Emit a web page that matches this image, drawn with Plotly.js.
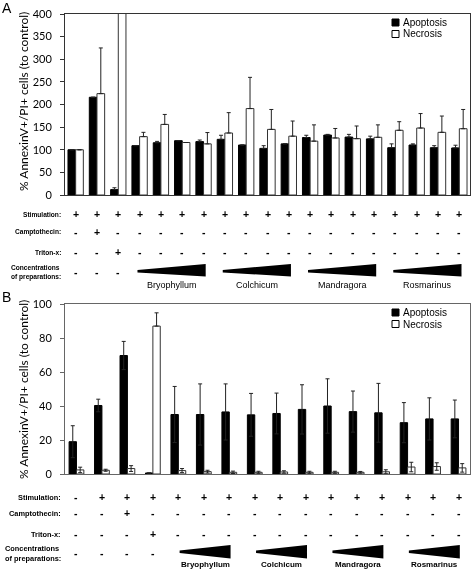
<!DOCTYPE html>
<html><head><meta charset="utf-8">
<script src="https://cdn.plot.ly/plotly-3.0.1.min.js"></script>
<style>html,body{margin:0;padding:0;background:#fff}#chart{width:473px;height:569px}#chart .main-svg{will-change:transform}</style>
</head><body><div id="chart"></div>
<script>
// ---------- data ----------
const seriesNames = ["Apoptosis", "Necrosis"];
const rowLabels = ["Stimulation:", "Camptothecin:", "Triton-x:", "Concentrations<br>of preparations:"];
const groupNames = ["Bryophyllum", "Colchicum", "Mandragora", "Rosmarinus"];
const yTitle = '% AnnexinV+/PI+ cells (to control)';

// Panel A (19 conditions)
const catsA = ["Control", "Camptothecin", "Triton-x",
  "Bryophyllum 1", "Bryophyllum 2", "Bryophyllum 3", "Bryophyllum 4",
  "Colchicum 1", "Colchicum 2", "Colchicum 3", "Colchicum 4",
  "Mandragora 1", "Mandragora 2", "Mandragora 3", "Mandragora 4",
  "Rosmarinus 1", "Rosmarinus 2", "Rosmarinus 3", "Rosmarinus 4"];
const apoA    = [100, 216, 12, 109, 115.5, 120, 118, 123, 110.5, 103, 113, 127, 132.5, 128, 124, 104.5, 110.5, 104.5, 104];
const apoErrA = [0, 0, 4, 0, 3, 0, 3.5, 9, 0, 6, 0, 5, 1.5, 6, 6, 8.5, 2.5, 4.5, 6];
const necA    = [100, 224, 450, 129, 156, 116, 113, 137, 191, 145, 130, 119, 126, 124.5, 127.5, 143, 148, 138.5, 146.5];
const necErrA = [0, 101, 0, 9.5, 22, 0, 25, 45, 69, 44, 33.5, 36, 21, 28, 27.5, 19, 32, 36, 42.5];
const stimA   = ["+","+","+","+","+","+","+","+","+","+","+","+","+","+","+","+","+","+","+"];
const campA   = ["-","+","-","-","-","-","-","-","-","-","-","-","-","-","-","-","-","-","-"];
const tritonA = ["-","-","+","-","-","-","-","-","-","-","-","-","-","-","-","-","-","-","-"];
const concA   = ["-","-","-"];
const groupStartA = [3, 7, 11, 15];
const groupSizeA = 4;

// Panel B (16 conditions)
const catsB = ["Unstimulated", "Stimulated", "Camptothecin", "Triton-x",
  "Bryophyllum 1", "Bryophyllum 2", "Bryophyllum 3",
  "Colchicum 1", "Colchicum 2", "Colchicum 3",
  "Mandragora 1", "Mandragora 2", "Mandragora 3",
  "Rosmarinus 1", "Rosmarinus 2", "Rosmarinus 3"];
const apoB       = [19, 40.3, 69.7, 0.6, 35, 35, 36.5, 34.8, 35.6, 38, 40, 36.7, 36, 30.2, 32.4, 32.4];
const apoErrB    = [9.4, 3.7, 8.3, 0, 16.5, 18, 16.5, 12.6, 12, 14.5, 16, 12.1, 17.3, 11.8, 12.4, 11.1];
const necB       = [2.4, 2.2, 3.2, 87, 2.0, 1.4, 1.0, 1.0, 1.2, 1.0, 1.0, 1.0, 1.3, 4.1, 4.4, 3.6];
const necErrB    = [1.6, 0.6, 1.7, 7.8, 1.2, 0.8, 0.7, 0.6, 0.7, 0.6, 0.6, 0.5, 1.2, 2.8, 2.2, 2.5];
const necErrLowB = [1.6, 0.6, 1.7, 0, 1.2, 0.8, 0.7, 0.6, 0.7, 0.6, 0.6, 0.5, 1.2, 2.8, 2.2, 2.5];
const stimB   = ["-","+","+","+","+","+","+","+","+","+","+","+","+","+","+","+"];
const campB   = ["-","-","+","-","-","-","-","-","-","-","-","-","-","-","-","-"];
const tritonB = ["-","-","-","+","-","-","-","-","-","-","-","-","-","-","-","-"];
const concB   = ["-","-","-","-"];
const groupStartB = [4, 7, 10, 13];
const groupSizeB = 3;

// ---------- layout helpers (pixel -> paper) ----------
const ML = 65, MR = 3, MT = 14, MB = 95, W = 473, H = 569;
const PW = W - ML - MR, PH = H - MT - MB;
const px = x => (x - ML) / PW;
const py = y => (H - MB - y) / PH;

const idxA = catsA.map((_, i) => i);
const idxB = catsB.map((_, i) => i);
const zeros = n => new Array(n).fill(0);

const wA = 0.36, wB = 0.29;
const errStyle = {color: '#222', thickness: 1, width: 2};

const traces = [
  {type: 'bar', name: seriesNames[0], x: idxA, y: apoA, text: catsA, hoverinfo: 'text+y', textposition: 'none',
   xaxis: 'x', yaxis: 'y', width: wA, offset: -wA, showlegend: false,
   marker: {color: '#000', line: {color: '#000', width: 1}},
   error_y: Object.assign({type: 'data', symmetric: false, array: apoErrA, arrayminus: zeros(apoA.length)}, errStyle)},
  {type: 'bar', name: seriesNames[1], x: idxA, y: necA, text: catsA, hoverinfo: 'text+y', textposition: 'none',
   xaxis: 'x', yaxis: 'y', width: wA, offset: 0, showlegend: false,
   marker: {color: '#fff', line: {color: '#333', width: 1}},
   error_y: Object.assign({type: 'data', symmetric: false, array: necErrA, arrayminus: zeros(necA.length)}, errStyle)},
  {type: 'bar', name: seriesNames[0], x: idxB, y: apoB, text: catsB, hoverinfo: 'text+y', textposition: 'none',
   xaxis: 'x2', yaxis: 'y2', width: wB, offset: -wB, showlegend: false,
   marker: {color: '#000', line: {color: '#000', width: 1}},
   error_y: Object.assign({type: 'data', symmetric: false, array: apoErrB, arrayminus: apoErrB}, errStyle)},
  {type: 'bar', name: seriesNames[1], x: idxB, y: necB, text: catsB, hoverinfo: 'text+y', textposition: 'none',
   xaxis: 'x2', yaxis: 'y2', width: wB, offset: 0, showlegend: false,
   marker: {color: '#fff', line: {color: '#333', width: 1}},
   error_y: Object.assign({type: 'data', symmetric: false, array: necErrB, arrayminus: necErrLowB}, errStyle)}
];

const tickFont = {family: 'Lato, Open Sans, sans-serif', size: 11, color: '#000'};
function yax(domain, range, dtick, lc) {
  return {domain: domain, range: range, dtick: dtick, ticks: 'outside', ticklen: 4, tickcolor: lc,
    showline: true, mirror: true, linecolor: lc, linewidth: 1, showgrid: false, zeroline: false,
    tickfont: tickFont, ticklabelstandoff: 6};
}
function xax(anchor, range, lc) {
  return {domain: [0, 1], anchor: anchor, range: range, showticklabels: false, ticks: '',
    showline: true, mirror: true, linecolor: lc, linewidth: 1, showgrid: false, zeroline: false};
}

const annotations = [];
const shapes = [];
const labelFont = sz => ({family: 'Liberation Sans, Arial, sans-serif', size: sz, color: '#000', weight: 'bold'});
const symFont = {family: 'Liberation Sans, Arial, sans-serif', size: 10.5, color: '#000', weight: 'bold'};

function panel(xref, rows, rowY, labelSize, groupStart, groupSize, wedge, nameY, nameFont, nameShift, wedgePad, titleY) {
  annotations.push({xref: 'paper', yref: 'paper', x: px(23), y: py(titleY), xanchor: 'center', yanchor: 'middle',
    textangle: -90, text: yTitle, showarrow: false, font: {family: 'Lato, Open Sans, sans-serif', size: 12, color: '#000'}});
  rows.forEach((arr, r) => {
    annotations.push({xref: 'paper', yref: 'paper', x: px(63), y: py(rowY[r]), xanchor: 'right', yanchor: 'middle',
      text: rowLabels[r], align: 'left', showarrow: false, font: labelFont(labelSize)});
    arr.forEach((s, i) => annotations.push({xref: xref, yref: 'paper', x: i, y: py(rowY[r]), xanchor: 'center', yanchor: 'middle',
      text: s, showarrow: false, font: symFont}));
  });
  groupStart.forEach((g, k) => {
    const x0 = g + wedgePad[0], x1 = g + groupSize - 1 + wedgePad[1];
    shapes.push({type: 'path', xref: xref, yref: 'paper', fillcolor: '#000', line: {width: 0},
      path: `M${x0},${py(wedge[0])} L${x1},${py(wedge[2])} L${x1},${py(wedge[3])} L${x0},${py(wedge[1])} Z`});
    annotations.push({xref: xref, yref: 'paper', x: g + (groupSize - 1) / 2 + nameShift, y: py(nameY), xanchor: 'center', yanchor: 'middle',
      text: groupNames[k], showarrow: false, font: nameFont});
  });
}

panel('x', [stimA, campA, tritonA, concA], [214, 232, 252, 272], 6.6, groupStartA, groupSizeA,
  [270, 272.5, 264, 276.5], 285, {family: 'Liberation Sans, Arial, sans-serif', size: 9, color: '#000'}, 0, [-0.1, 0.1], 102);
panel('x2', [stimB, campB, tritonB, concB], [497, 513, 534, 553], 7.4, groupStartB, groupSizeB,
  [550.5, 553, 545, 558.5], 564, {family: 'Liberation Sans, Arial, sans-serif', size: 8, color: '#000', weight: 'bold'}, 0.05, [0.05, 0.05], 390);

// legends (manual, compact like the original)
function legend(yA, yN) {
  shapes.push({type: 'rect', xref: 'paper', yref: 'paper', x0: px(392), x1: px(399), y0: py(yA + 3.5), y1: py(yA - 3.5),
    fillcolor: '#000', line: {color: '#000', width: 1}});
  shapes.push({type: 'rect', xref: 'paper', yref: 'paper', x0: px(392), x1: px(399), y0: py(yN + 3.5), y1: py(yN - 3.5),
    fillcolor: '#fff', line: {color: '#000', width: 1}});
  [[yA, seriesNames[0]], [yN, seriesNames[1]]].forEach(([yy, t]) => annotations.push({xref: 'paper', yref: 'paper',
    x: px(401), y: py(yy), xanchor: 'left', yanchor: 'middle', text: t, showarrow: false,
    font: {family: 'Liberation Sans, Arial, sans-serif', size: 10, color: '#000'}}));
}
legend(22.5, 34);
legend(312.5, 324);

// panel letters
annotations.push({xref: 'paper', yref: 'paper', x: px(0), y: py(8), xanchor: 'left', yanchor: 'middle', text: 'A', showarrow: false,
  font: {family: 'Liberation Sans, Arial, sans-serif', size: 14, color: '#000'}});
annotations.push({xref: 'paper', yref: 'paper', x: px(0), y: py(297), xanchor: 'left', yanchor: 'middle', text: 'B', showarrow: false,
  font: {family: 'Liberation Sans, Arial, sans-serif', size: 14, color: '#000'}});

const layout = {
  width: W, height: H, margin: {l: ML, r: MR, t: MT, b: MB, autoexpand: false},
  paper_bgcolor: '#fff', plot_bgcolor: '#fff', showlegend: false,
  barmode: 'overlay',
  xaxis: xax('y', [-0.5, catsA.length - 0.5], '#333'),
  yaxis: yax([py(195), 1], [0, 400], 50, '#333'),
  xaxis2: xax('y2', [-0.45, catsB.length - 0.55], '#666'),
  yaxis2: yax([0, py(304)], [0, 100], 20, '#666'),
  annotations: annotations, shapes: shapes
};

Plotly.newPlot('chart', traces, layout, {staticPlot: true, displayModeBar: false});
</script></body></html>
